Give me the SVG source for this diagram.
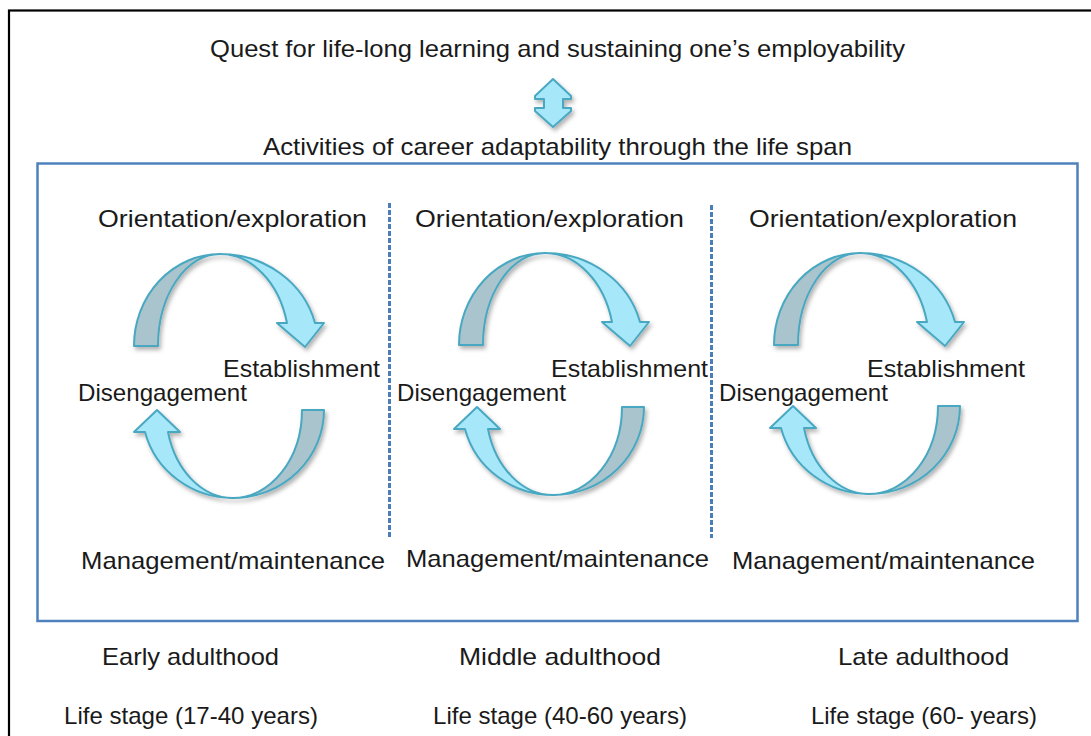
<svg xmlns="http://www.w3.org/2000/svg" width="1091" height="736" viewBox="0 0 1091 736">
<style>
text{font-family:"Liberation Sans",Arial,sans-serif;font-size:24px;fill:#1a1a1a}
.grey{fill:#a9c4cc;stroke:#4aa8c1;stroke-width:2;stroke-linejoin:round}
.blue{fill:#a6e7fa;stroke:#4aa8c1;stroke-width:2;stroke-linejoin:round}
.dash{stroke:#4a7ebb;stroke-width:3;stroke-dasharray:5 2;fill:none}
</style>
<defs>
<filter id="sh" x="-20%" y="-20%" width="150%" height="150%">
<feDropShadow dx="2" dy="3" stdDeviation="2" flood-color="#000" flood-opacity="0.3"/>
</filter>
<g id="toparc">
<path class="grey" d="M134,346 A86,92 0 0 1 220,254 A62,92 0 0 0 158,346 Z"/>
<path class="blue" d="M220,254 A98,92 0 0 1 315,323 L324,323 L305,347 L277,323 L287,323 A69,92 0 0 0 220,254 Z"/>
</g>
<g id="botarc">
<path class="grey" d="M324,410 A91,88 0 0 1 233,498 A69,88 0 0 0 302,410 Z"/>
<path class="blue" d="M233,498 A91,88 0 0 1 145,432 L134,432 L157,410 L180,432 L168,432 A67,88 0 0 0 233,498 Z"/>
</g>
</defs>
<rect x="9" y="10.5" width="1110" height="800" fill="#fff" stroke="#000" stroke-width="2.2"/>
<rect x="37.5" y="163.5" width="1040" height="457.5" fill="none" stroke="#4f81bd" stroke-width="2.5"/>
<g id="connectors">
<line class="dash" x1="389.5" y1="203" x2="389.5" y2="537"/>
<line class="dash" x1="711.5" y1="205" x2="711.5" y2="538"/>
</g>
<g id="updown" filter="url(#sh)">
<path class="blue" d="M553,79 L571,96 L571,99 L563,99 L563,108 L571,108 L571,111 L553,127 L535,111 L535,108 L544,108 L544,99 L535,99 L535,96 Z"/>
</g>
<g id="title">
<text x="210" y="57" textLength="695" lengthAdjust="spacingAndGlyphs">Quest for life-long learning and sustaining one’s employability</text>
<text x="263" y="155" textLength="589" lengthAdjust="spacingAndGlyphs">Activities of career adaptability through the life span</text>
</g>
<g id="col1">
<use href="#toparc" filter="url(#sh)"/>
<use href="#botarc" filter="url(#sh)"/>
<text x="98" y="227" textLength="269" lengthAdjust="spacingAndGlyphs">Orientation/exploration</text>
<text x="223" y="377" textLength="157" lengthAdjust="spacingAndGlyphs">Establishment</text>
<text x="78" y="401" textLength="169" lengthAdjust="spacingAndGlyphs">Disengagement</text>
<text x="81" y="569" textLength="304" lengthAdjust="spacingAndGlyphs">Management/maintenance</text>
</g>
<g id="col2">
<use href="#toparc" transform="translate(325,-1)" filter="url(#sh)"/>
<use href="#botarc" transform="translate(320,-3)" filter="url(#sh)"/>
<text x="415" y="227" textLength="269" lengthAdjust="spacingAndGlyphs">Orientation/exploration</text>
<text x="551" y="377" textLength="157" lengthAdjust="spacingAndGlyphs">Establishment</text>
<text x="397" y="401" textLength="169" lengthAdjust="spacingAndGlyphs">Disengagement</text>
<text x="406" y="567" textLength="303" lengthAdjust="spacingAndGlyphs">Management/maintenance</text>
</g>
<g id="col3">
<use href="#toparc" transform="translate(640,-1)" filter="url(#sh)"/>
<use href="#botarc" transform="translate(636,-4)" filter="url(#sh)"/>
<text x="749" y="227" textLength="268" lengthAdjust="spacingAndGlyphs">Orientation/exploration</text>
<text x="867" y="377" textLength="158" lengthAdjust="spacingAndGlyphs">Establishment</text>
<text x="719" y="401" textLength="169" lengthAdjust="spacingAndGlyphs">Disengagement</text>
<text x="732" y="569" textLength="303" lengthAdjust="spacingAndGlyphs">Management/maintenance</text>
</g>
<g id="stages">
<text x="102" y="665" textLength="177" lengthAdjust="spacingAndGlyphs">Early adulthood</text>
<text x="459" y="665" textLength="202" lengthAdjust="spacingAndGlyphs">Middle adulthood</text>
<text x="838" y="665" textLength="171" lengthAdjust="spacingAndGlyphs">Late adulthood</text>
<text x="64" y="724" textLength="254" lengthAdjust="spacingAndGlyphs">Life stage (17-40 years)</text>
<text x="433" y="724" textLength="254" lengthAdjust="spacingAndGlyphs">Life stage (40-60 years)</text>
<text x="811" y="724" textLength="226" lengthAdjust="spacingAndGlyphs">Life stage (60- years)</text>
</g>
</svg>
